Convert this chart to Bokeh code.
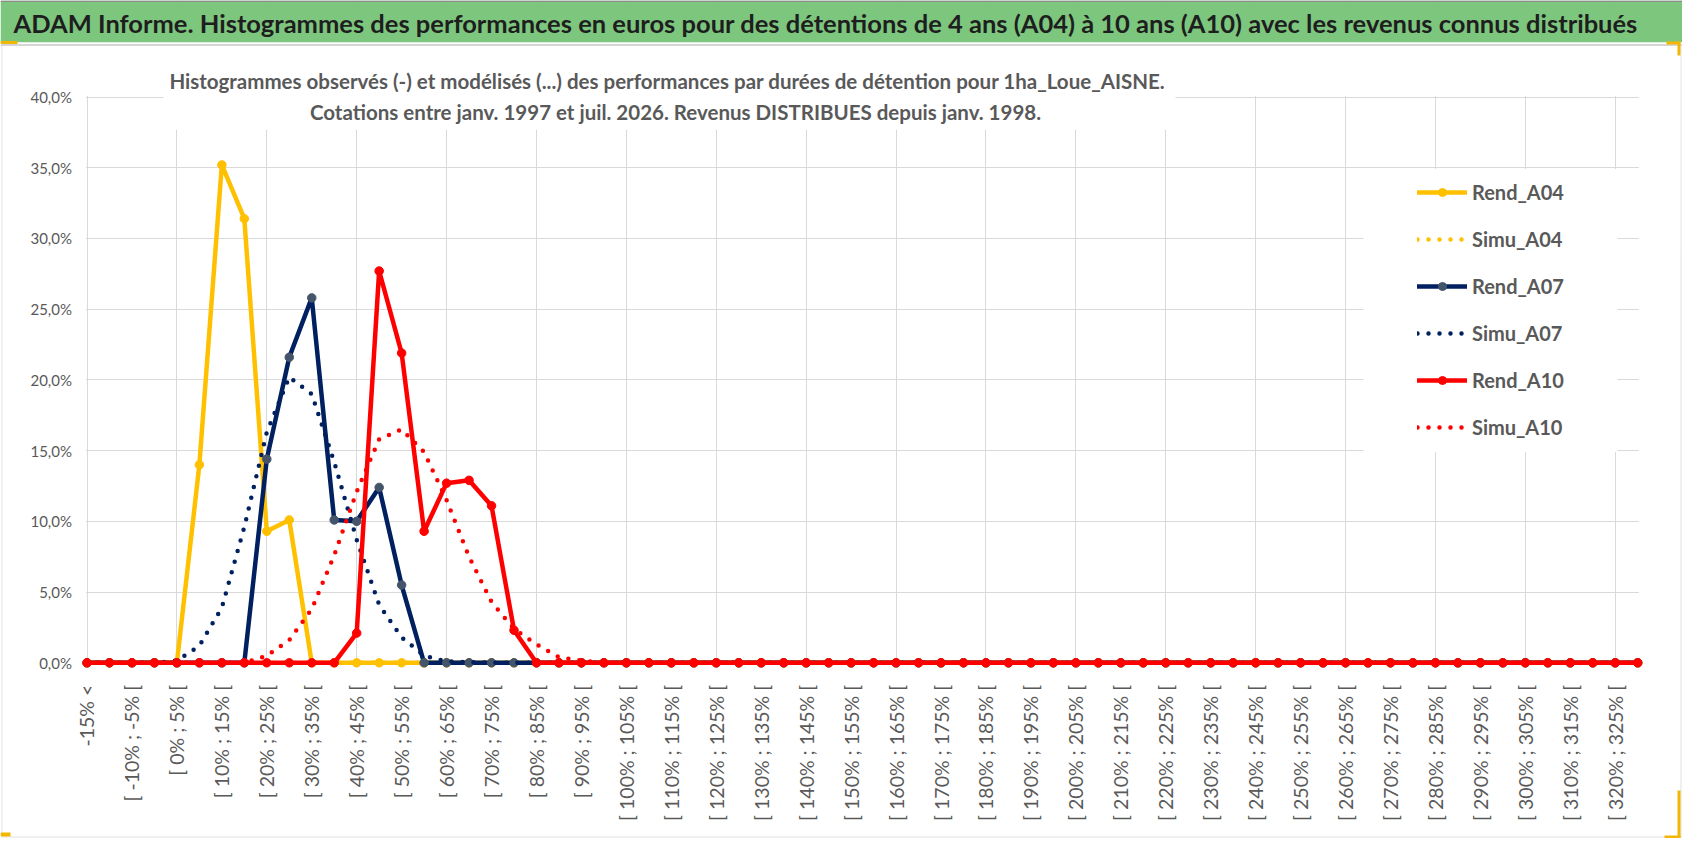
import math
from bokeh.plotting import figure
from bokeh.models import Range1d, FixedTicker, BoxAnnotation, Label, Legend, LegendItem
from bokeh.embed import file_html
from bokeh.resources import INLINE

# ---------------- data ----------------
categories = [
    "-15% <", "[ -15% ; -10% [", "[ -10% ; -5% [", "[ -5% ; 0% [",
    "[ 0% ; 5% [", "[ 5% ; 10% [", "[ 10% ; 15% [", "[ 15% ; 20% [",
    "[ 20% ; 25% [", "[ 25% ; 30% [", "[ 30% ; 35% [", "[ 35% ; 40% [",
    "[ 40% ; 45% [", "[ 45% ; 50% [", "[ 50% ; 55% [", "[ 55% ; 60% [",
    "[ 60% ; 65% [", "[ 65% ; 70% [", "[ 70% ; 75% [", "[ 75% ; 80% [",
    "[ 80% ; 85% [", "[ 85% ; 90% [", "[ 90% ; 95% [", "[ 95% ; 100% [",
    "[ 100% ; 105% [", "[ 105% ; 110% [", "[ 110% ; 115% [", "[ 115% ; 120% [",
    "[ 120% ; 125% [", "[ 125% ; 130% [", "[ 130% ; 135% [", "[ 135% ; 140% [",
    "[ 140% ; 145% [", "[ 145% ; 150% [", "[ 150% ; 155% [", "[ 155% ; 160% [",
    "[ 160% ; 165% [", "[ 165% ; 170% [", "[ 170% ; 175% [", "[ 175% ; 180% [",
    "[ 180% ; 185% [", "[ 185% ; 190% [", "[ 190% ; 195% [", "[ 195% ; 200% [",
    "[ 200% ; 205% [", "[ 205% ; 210% [", "[ 210% ; 215% [", "[ 215% ; 220% [",
    "[ 220% ; 225% [", "[ 225% ; 230% [", "[ 230% ; 235% [", "[ 235% ; 240% [",
    "[ 240% ; 245% [", "[ 245% ; 250% [", "[ 250% ; 255% [", "[ 255% ; 260% [",
    "[ 260% ; 265% [", "[ 265% ; 270% [", "[ 270% ; 275% [", "[ 275% ; 280% [",
    "[ 280% ; 285% [", "[ 285% ; 290% [", "[ 290% ; 295% [", "[ 295% ; 300% [",
    "[ 300% ; 305% [", "[ 305% ; 310% [", "[ 310% ; 315% [", "[ 315% ; 320% [",
    "[ 320% ; 325% [", "[ 325% ; 330% [",
]

y_ticks = [0, 5, 10, 15, 20, 25, 30, 35, 40]
y_tick_labels = ["0,0%", "5,0%", "10,0%", "15,0%", "20,0%", "25,0%", "30,0%", "35,0%", "40,0%"]

# values in percent, one per category
rend_a04 = [
    0, 0, 0, 0, 0, 14.0, 35.2, 31.4, 9.3, 10.1,
    0, 0, 0, 0, 0, 0, 0, 0, 0, 0,
    0, 0, 0, 0, 0, 0, 0, 0, 0, 0,
    0, 0, 0, 0, 0, 0, 0, 0, 0, 0,
    0, 0, 0, 0, 0, 0, 0, 0, 0, 0,
    0, 0, 0, 0, 0, 0, 0, 0, 0, 0,
    0, 0, 0, 0, 0, 0, 0, 0, 0, 0,
]
simu_a04 = [
    0, 0, 0, 0, 0, 0, 0, 0, 0, 0,
    0, 0, 0, 0, 0, 0, 0, 0, 0, 0,
    0, 0, 0, 0, 0, 0, 0, 0, 0, 0,
    0, 0, 0, 0, 0, 0, 0, 0, 0, 0,
    0, 0, 0, 0, 0, 0, 0, 0, 0, 0,
    0, 0, 0, 0, 0, 0, 0, 0, 0, 0,
    0, 0, 0, 0, 0, 0, 0, 0, 0, 0,
]
rend_a07 = [
    0, 0, 0, 0, 0, 0, 0, 0, 14.4, 21.6,
    25.8, 10.1, 10.0, 12.4, 5.5, 0, 0, 0, 0, 0,
    0, 0, 0, 0, 0, 0, 0, 0, 0, 0,
    0, 0, 0, 0, 0, 0, 0, 0, 0, 0,
    0, 0, 0, 0, 0, 0, 0, 0, 0, 0,
    0, 0, 0, 0, 0, 0, 0, 0, 0, 0,
    0, 0, 0, 0, 0, 0, 0, 0, 0, 0,
]
simu_a07 = [
    0, 0, 0, 0, 0.15, 1.2, 3.9, 9.6, 16.3, 20.2,
    19.0, 14.2, 8.7, 4.1, 1.8, 0.5, 0.1, 0.05, 0, 0,
    0, 0, 0, 0, 0, 0, 0, 0, 0, 0,
    0, 0, 0, 0, 0, 0, 0, 0, 0, 0,
    0, 0, 0, 0, 0, 0, 0, 0, 0, 0,
    0, 0, 0, 0, 0, 0, 0, 0, 0, 0,
    0, 0, 0, 0, 0, 0, 0, 0, 0, 0,
]
rend_a10 = [
    0, 0, 0, 0, 0, 0, 0, 0, 0, 0,
    0, 0, 2.1, 27.7, 21.9, 9.3, 12.7, 12.9, 11.1, 2.3,
    0, 0, 0, 0, 0, 0, 0, 0, 0, 0,
    0, 0, 0, 0, 0, 0, 0, 0, 0, 0,
    0, 0, 0, 0, 0, 0, 0, 0, 0, 0,
    0, 0, 0, 0, 0, 0, 0, 0, 0, 0,
    0, 0, 0, 0, 0, 0, 0, 0, 0, 0,
]
simu_a10 = [
    0, 0, 0, 0, 0, 0, 0, 0, 0.5, 1.6,
    3.8, 7.6, 12.1, 15.8, 16.5, 14.9, 11.5, 7.5, 4.3, 2.4,
    1.3, 0.4, 0.15, 0, 0, 0, 0, 0, 0, 0,
    0, 0, 0, 0, 0, 0, 0, 0, 0, 0,
    0, 0, 0, 0, 0, 0, 0, 0, 0, 0,
    0, 0, 0, 0, 0, 0, 0, 0, 0, 0,
    0, 0, 0, 0, 0, 0, 0, 0, 0, 0,
]

series_names = ["Rend_A04", "Simu_A04", "Rend_A07", "Simu_A07", "Rend_A10", "Simu_A10"]

header_title = ("ADAM Informe. Histogrammes des performances en euros pour des détentions "
                "de 4 ans (A04) à 10 ans (A10) avec les revenus connus distribués")
chart_title_1 = ("Histogrammes observés (-) et modélisés (...) des performances par durées "
                 "de détention pour 1ha_Loue_AISNE.")
chart_title_2 = "Cotations entre janv. 1997 et juil. 2026. Revenus DISTRIBUES depuis janv. 1998."

# ---------------- layout (canvas pixels) ----------------
W, H = 1682, 838
KX = 22.474           # px per category
KY = 14.144           # px per percent point
X_ORIGIN_PX = 86.5    # pixel of first category
Y_ORIGIN_PX = 662.3   # pixel of 0 %
XS = -X_ORIGIN_PX / KX
XE = XS + W / KX
YE = Y_ORIGIN_PX / KY
YS = YE - H / KY


def dx(px):
    return XS + px / KX


def dy(py):
    return YE - py / KY


x_pos = list(range(len(categories)))

p = figure(
    frame_width=W, frame_height=H,
    x_range=Range1d(XS, XE), y_range=Range1d(YS, YE),
    output_backend="svg", toolbar_location=None,
    min_border_left=0, min_border_top=0, min_border_right=0, min_border_bottom=0,
)
p.title.visible = False
p.background_fill_color = "white"
p.border_fill_color = "white"
p.outline_line_color = None

GRAY_TXT = "#595959"
GRID = "#D9D9D9"

# x axis, fixed at 0 %
p.xaxis.fixed_location = 0
p.xaxis.ticker = FixedTicker(ticks=x_pos[::2])
p.xaxis.major_label_overrides = {i: categories[i] for i in x_pos[::2]}
p.xaxis.major_label_orientation = math.pi / 2
p.xaxis.major_label_text_font = "Lato"
p.xaxis.major_label_text_font_size = "19.5px"
p.xaxis.major_label_text_color = GRAY_TXT
p.xaxis.major_tick_line_color = None
p.xaxis.minor_tick_line_color = None
p.xaxis.major_tick_out = 0
p.xaxis.major_tick_in = 0
p.xaxis.axis_line_color = None
p.xaxis.major_label_standoff = 22

# y axis, fixed at first category
p.yaxis.fixed_location = 0
p.yaxis.ticker = FixedTicker(ticks=y_ticks)
p.yaxis.major_label_overrides = dict(zip(y_ticks, y_tick_labels))
p.yaxis.major_label_text_font = "Lato"
p.yaxis.major_label_text_font_size = "15px"
p.yaxis.major_label_text_color = GRAY_TXT
p.yaxis.major_tick_line_color = None
p.yaxis.minor_tick_line_color = None
p.yaxis.major_tick_out = 0
p.yaxis.major_tick_in = 0
p.yaxis.axis_line_color = None
p.yaxis.major_label_standoff = 15

# grids
p.xgrid.ticker = FixedTicker(ticks=x_pos[::4])
p.xgrid.grid_line_color = GRID
p.ygrid.ticker = FixedTicker(ticks=y_ticks)
p.ygrid.grid_line_color = GRID


def under_box(l, r, t, b, color="white"):
    p.add_layout(BoxAnnotation(left=l, right=r, top=t, bottom=b, fill_color=color,
                               fill_alpha=1.0, line_color=None, level="underlay"))


# keep the grid inside the plot area
y_top, y_bot = y_ticks[-1], y_ticks[0]
x_first, x_last = x_pos[0], x_pos[-1]
under_box(XS, XE, YE, y_top + 0.07)          # above 40 %
under_box(XS, XE, y_bot - 0.07, YS)          # below 0 %
under_box(XS, x_first - 0.045, YE, YS)       # left of first category
under_box(x_last + 0.045, XE, YE, YS)        # right of last category
# white areas behind chart title and legend
under_box(dx(163), dx(1175), dy(90), dy(129.3))
under_box(dx(1363), dx(1617), dy(168.5), dy(451.7))
# green header band and frame lines
under_box(XS, XE, YE, dy(41.7), color="#7DC67E")
under_box(XS, XE, YE, dy(1.5), color="#8C8C8C")
under_box(XS, XE, dy(43.8), dy(45.3), color="#D0D0D0")

# ---------------- series ----------------
YEL, NAVY, RED, NAVY_MK = "#FFC000", "#002060", "#FF0000", "#44546A"
styles = [
    (rend_a04, YEL, YEL, True),
    (simu_a04, YEL, None, False),
    (rend_a07, NAVY, NAVY_MK, True),
    (simu_a07, NAVY, None, False),
    (rend_a10, RED, RED, True),
    (simu_a10, RED, None, False),
]
items = []
for name, (vals, col, mcol, solid) in zip(series_names, styles):
    if solid:
        r1 = p.line(x_pos, vals, line_color=col, line_width=4.5,
                    line_join="round", line_cap="round")
        r2 = p.scatter(x_pos, vals, size=8.5, fill_color=mcol, line_color=mcol)
        items.append(LegendItem(label=name, renderers=[r1, r2]))
    else:
        r1 = p.line(x_pos, vals, line_color=col, line_width=4.5,
                    line_dash="0 11", line_cap="round", line_join="round")
        items.append(LegendItem(label=name, renderers=[r1]))

# ---------------- chart frame & selection handles ----------------
p.add_layout(BoxAnnotation(left=dx(1.5), right=dx(1680.5), top=dy(44.5), bottom=dy(836.5),
                           fill_color=None, line_color="#BFBFBF", line_width=1.5))
HANDLE = "#F2B705"
for (l, r, t, b) in [(0, 17, 40.5, 43.5), (1666, 1680, 41, 44), (1677, 1680, 41, 55),
                     (1677, 1680, 790, 838), (1664, 1680, 835, 838), (0, 10, 832, 836)]:
    p.add_layout(BoxAnnotation(left=dx(l), right=dx(r), top=dy(t), bottom=dy(b),
                               fill_color=HANDLE, fill_alpha=1.0, line_color=None))

# ---------------- texts ----------------
p.add_layout(Label(x=dx(13), y=dy(22.5), text=header_title, text_font="Lato",
                   text_font_style="bold", text_font_size="25.5px", text_color="#1E1E1E",
                   text_align="left", text_baseline="middle"))
p.add_layout(Label(x=dx(667), y=dy(80.5), text=chart_title_1, text_font="Lato",
                   text_font_style="bold", text_font_size="20.5px", text_color=GRAY_TXT,
                   text_align="center", text_baseline="middle"))
p.add_layout(Label(x=dx(675), y=dy(111.5), text=chart_title_2, text_font="Lato",
                   text_font_style="bold", text_font_size="20.5px", text_color=GRAY_TXT,
                   text_align="center", text_baseline="middle"))

legend = Legend(items=items, location=(1417, 399), orientation="vertical",
                glyph_width=50, glyph_height=20, label_height=20, spacing=23,
                padding=10, margin=0, label_standoff=5,
                label_text_font="Lato", label_text_font_style="bold",
                label_text_font_size="20px", label_text_color=GRAY_TXT,
                background_fill_alpha=0, border_line_color=None)
p.add_layout(legend)

open("out.html", "w").write(file_html(p, INLINE))
